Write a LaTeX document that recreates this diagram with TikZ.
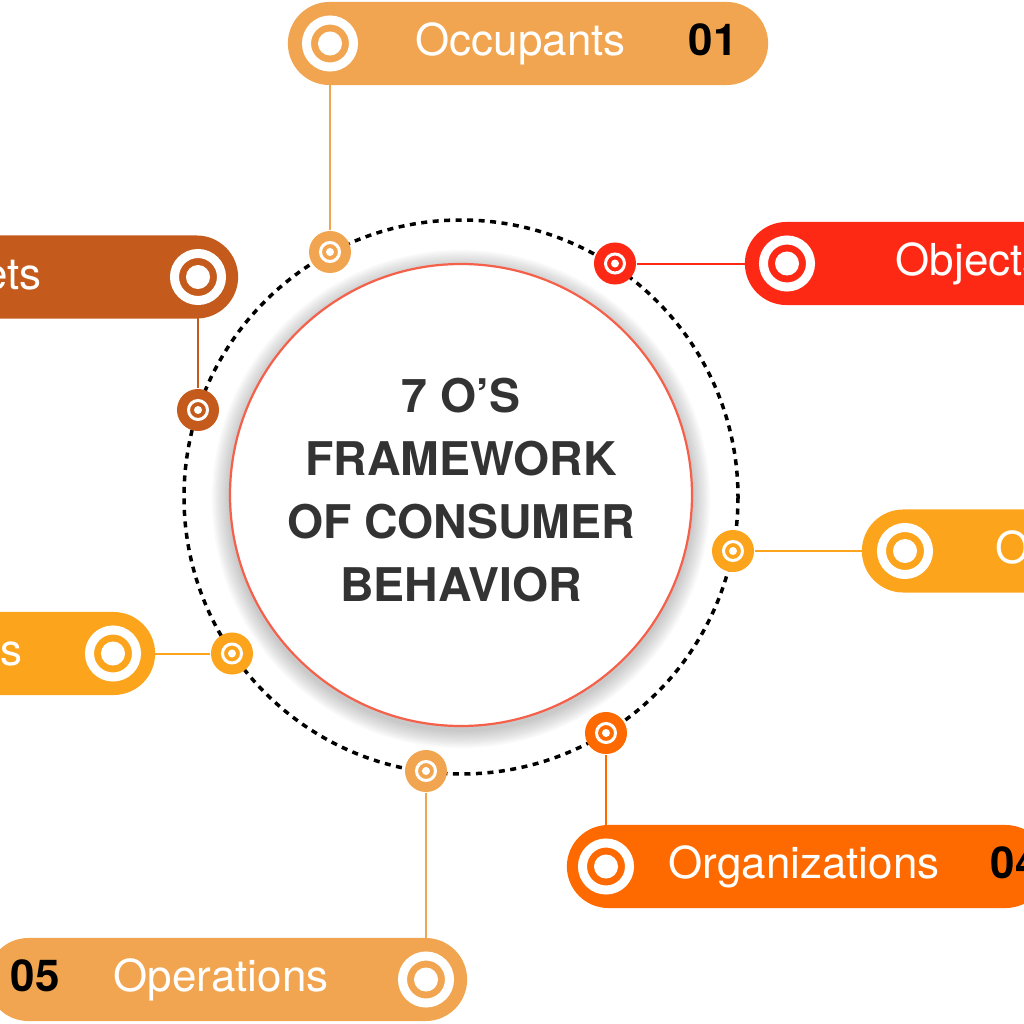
\documentclass[tikz,border=0pt]{standalone}
\usepackage{fontspec}
\setmainfont{TeX Gyre Heros}
\usetikzlibrary{shapes.misc,backgrounds}

\definecolor{occcol}{HTML}{F2A550}
\definecolor{objcol}{HTML}{FE2914}
\definecolor{objvcol}{HTML}{FCA41C}
\definecolor{orgcol}{HTML}{FF6A00}
\definecolor{opscol}{HTML}{F2A550}
\definecolor{ocacol}{HTML}{FCA41C}
\definecolor{outcol}{HTML}{C45A1B}
\definecolor{ringcol}{HTML}{F5604A}
\definecolor{titlecol}{HTML}{333333}

\begin{document}
\begin{tikzpicture}[x=0.01cm, y=-0.01cm,
  pill/.style={rounded rectangle, fill=#1, minimum width=4.8cm, minimum height=0.83cm, inner sep=0pt},
  target/.style={circle, draw=white, fill=#1, line width=0.09cm, minimum size=0.47cm, inner sep=0pt,
    path picture={\fill[white] (path picture bounding box.center) circle (0.12cm);}},
  odot/.style={circle, fill=#1, minimum size=0.42cm, inner sep=0pt,
    path picture={\draw[white, line width=0.03cm] (path picture bounding box.center) circle (0.095cm);
                  \fill[white] (path picture bounding box.center) circle (0.04cm);}},
  link/.style={draw=#1, line width=0.02cm},
  word/.style={text=white, font=\fontsize{12.5}{15}\selectfont, inner sep=0pt},
  num/.style={text=black, font=\fontsize{12.5}{15}\selectfont\bfseries, inner sep=0pt},
]

\useasboundingbox (0,0) rectangle (1024,1024);
\clip (0,0) rectangle (1024,1024);

%%%%%%%%%%%%%%%%%%%%%% CENTRE %%%%%%%%%%%%%%%%%%%%%%

% soft shadow round the disc
\foreach \i in {1,...,10}
    \fill[black, opacity=0.022] (461,499) circle (231+\i*1.8);

% dotted orbit
\draw[line width=0.035cm, dash pattern=on 0.06cm off 0.055cm] (461,497) circle (277);

% disc and title
\draw[fill=white, draw=ringcol, line width=0.022cm] (461,495) circle (231);
\node[align=center, text=titlecol, font=\fontsize{13.2}{17.9}\selectfont\bfseries] (core) at (461,490)
    {7 O’S\\FRAMEWORK\\OF CONSUMER\\BEHAVIOR};

%%%%%%%%%%%%%%%%%%%%%% PILLS %%%%%%%%%%%%%%%%%%%%%%

% 01 Occupants
\node[pill=occcol] (occ) at (528,43.5) {};
    \node[target=occcol] (occ-icon) at (330,43.5) {};
    \node[word, anchor=base west] (occ-text) at (415,55) {Occupants};
    \node[num, anchor=base west] (occ-num) at (688,55) {01};

% 02 Objects
\node[pill=objcol] (obj) at (985,263.5) {};
    \node[target=objcol] (obj-icon) at (787,263.5) {};
    \node[word, anchor=base west] (obj-text) at (895,275) {Objects};

% 03 Objectives
\node[pill=objvcol] (objv) at (1102,551) {};
    \node[target=objvcol] (objv-icon) at (905,551) {};
    \node[word, anchor=base west] (objv-text) at (995,563) {Objectives};

% 04 Organizations
\node[pill=orgcol] (org) at (807,866.5) {};
    \node[target=orgcol] (org-icon) at (606,866.5) {};
    \node[word, anchor=base west] (org-text) at (668,878) {Organizations};
    \node[num, anchor=base west] (org-num) at (990,878) {04};

% 05 Operations
\node[pill=opscol] (ops) at (227,979.5) {};
    \node[target=opscol] (ops-icon) at (426,979.5) {};
    \node[word, anchor=base west] (ops-text) at (113,991) {Operations};
    \node[num, anchor=base west] (ops-num) at (10,991) {05};

% 06 Occasions
\node[pill=ocacol] (oca) at (-85,653.5) {};
    \node[target=ocacol] (oca-icon) at (113,653.5) {};
    \node[word, anchor=base east] (oca-text) at (23,665) {Occasions};

% 07 Outlets
\node[pill=outcol] (out) at (-2,277) {};
    \node[target=outcol] (out-icon) at (198,277) {};
    \node[word, anchor=base east] (out-text) at (42,289) {Outlets};

%%%%%%%%%%%%%%%%%%%%%% DOTS ON THE ORBIT %%%%%%%%%%%%%%%%%%%%%%

\node[odot=occcol] (occ-dot) at (330,252) {};
\node[odot=objcol] (obj-dot) at (615,263.5) {};
\node[odot=objvcol] (objv-dot) at (733,551) {};
\node[odot=orgcol] (org-dot) at (606,733) {};
\node[odot=opscol] (ops-dot) at (426,771) {};
\node[odot=ocacol] (oca-dot) at (232,653.5) {};
\node[odot=outcol] (out-dot) at (198,410) {};

% links, behind everything
\begin{scope}[on background layer]
\draw[link=occcol] (occ-dot) -- (occ-icon);
\draw[link=objcol] (obj-dot) -- (obj-icon);
\draw[link=objvcol] (objv-dot) -- (objv-icon);
\draw[link=orgcol] (org-dot) -- (org-icon);
\draw[link=opscol] (ops-dot) -- (ops-icon);
\draw[link=ocacol] (oca-dot) -- (oca-icon);
\draw[link=outcol] (out-dot) -- (out-icon);
\end{scope}

\end{tikzpicture}
\end{document}
